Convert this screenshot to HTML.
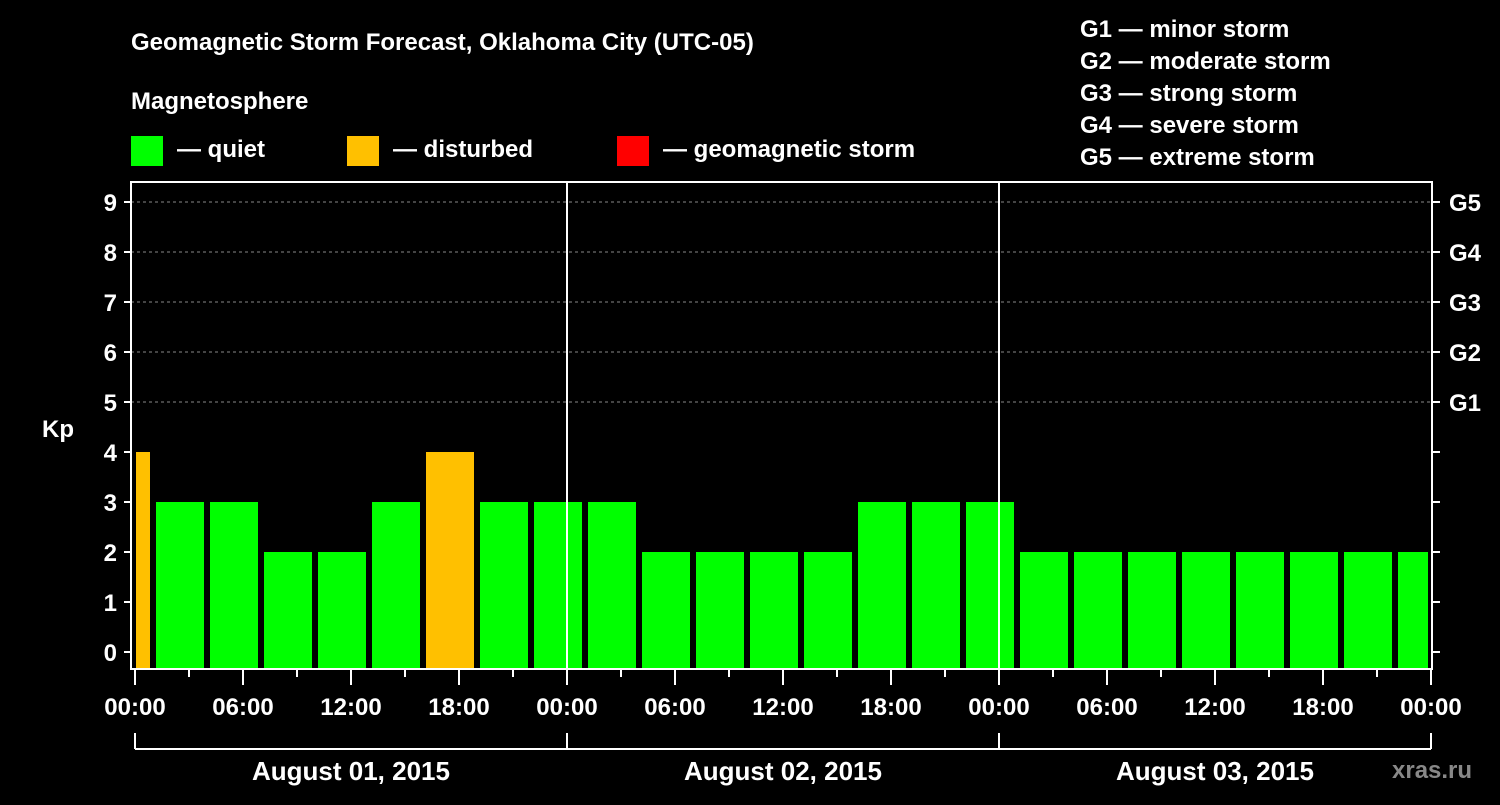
<!DOCTYPE html>
<html><head><meta charset="utf-8"><style>
body{margin:0;background:#000;width:1500px;height:800px;overflow:hidden}
svg text{font-family:"Liberation Sans",sans-serif;font-weight:bold;fill:#fff}
</style></head><body>
<svg id="c" width="1500" height="800">
<text x="131" y="50" font-size="24">Geomagnetic Storm Forecast, Oklahoma City (UTC-05)</text>
<text x="131" y="109" font-size="24">Magnetosphere</text>
<rect x="131" y="136" width="32" height="30" fill="#00ff00"/>
<text x="177" y="157" font-size="24">— quiet</text>
<rect x="347" y="136" width="32" height="30" fill="#ffc000"/>
<text x="393" y="157" font-size="24">— disturbed</text>
<rect x="617" y="136" width="32" height="30" fill="#ff0000"/>
<text x="663" y="157" font-size="24">— geomagnetic storm</text>
<g font-size="24">
<text x="1080" y="37">G1 — minor storm</text>
<text x="1080" y="69">G2 — moderate storm</text>
<text x="1080" y="101">G3 — strong storm</text>
<text x="1080" y="133">G4 — severe storm</text>
<text x="1080" y="165">G5 — extreme storm</text>
</g>
<text x="42" y="437" font-size="24">Kp</text>
<text x="1392" y="778" font-size="24" fill="#888" style="fill:#888">xras.ru</text>
<g id="plot"></g>
</svg>
<script>
const kpValues=[4,3,3,2,2,3,4,3,3,3,2,2,2,2,3,3,3,2,2,2,2,2,2,2,2];
const yTicks=[0,1,2,3,4,5,6,7,8,9];
const gLabels=["G1","G2","G3","G4","G5"];
const xTickLabels=["00:00","06:00","12:00","18:00","00:00","06:00","12:00","18:00","00:00","06:00","12:00","18:00","00:00"];
const dayLabels=["August 01, 2015","August 02, 2015","August 03, 2015"];
const NS="http://www.w3.org/2000/svg";
const g=document.getElementById('plot');
const L=131,R=1432,T=182,B=669,X0=135,PX_H=18;
const y=v=>652-50*v;
const x=h=>X0+h*PX_H;
function mk(tag,a,p){const e=document.createElementNS(NS,tag);for(const k in a)e.setAttribute(k,a[k]);(p||g).appendChild(e);return e;}
// grid
for(let v=5;v<=9;v++){mk('line',{x1:L,x2:R,y1:y(v),y2:y(v),stroke:'#888','stroke-dasharray':'3,3','stroke-width':1});}
// bars
kpValues.forEach((v,i)=>{
  const h0=-2+3*i;
  let x1=Math.max(x(h0)+3,L+5),x2=Math.min(x(h0+3)-3,R-4);
  const r=mk('rect',{x:x1,y:y(v),width:x2-x1,height:B-1-y(v),fill:v>=5?'#ff0000':v>=4?'#ffc000':'#00ff00'});
  
  
});
// frame
mk('rect',{x:L,y:T,width:R-L,height:B-T,fill:'none',stroke:'#fff','stroke-width':2});
[1,2].forEach(d=>mk('line',{x1:x(24*d),x2:x(24*d),y1:T,y2:B,stroke:'#fff','stroke-width':2}));
// y ticks
yTicks.forEach(v=>{
  mk('line',{x1:L-7,x2:L,y1:y(v),y2:y(v),stroke:'#fff','stroke-width':2});
  mk('line',{x1:R,x2:R+8,y1:y(v),y2:y(v),stroke:'#fff','stroke-width':2});
  const t=mk('text',{x:L-14,y:y(v)+9,'font-size':24,'text-anchor':'end'});t.textContent=v;
  
  
});
gLabels.forEach((s,i)=>{const t=mk('text',{x:1449,y:y(5+i)+9,'font-size':24});t.textContent=s;
  
  });
// x ticks
for(let h=0;h<=72;h+=3){const long=h%6===0;mk('line',{x1:x(h),x2:x(h),y1:B,y2:B+(long?16:8),stroke:'#fff','stroke-width':2});}
xTickLabels.forEach((s,i)=>{const t=mk('text',{x:x(6*i),y:715,'font-size':24,'text-anchor':'middle'});t.textContent=s;
  
  });
// day bracket
mk('line',{x1:x(0),x2:x(72),y1:749,y2:749,stroke:'#fff','stroke-width':2});
for(let d=0;d<=3;d++)mk('line',{x1:x(24*d),x2:x(24*d),y1:733,y2:749,stroke:'#fff','stroke-width':2});
dayLabels.forEach((s,i)=>{const t=mk('text',{x:x(24*i+12),y:780,'font-size':26,'text-anchor':'middle'});t.textContent=s;
  
  });
</script>
</body></html>
